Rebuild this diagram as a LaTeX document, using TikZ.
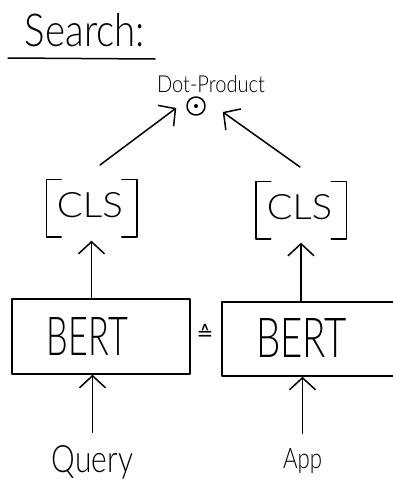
\documentclass[tikz,border=0pt]{standalone}
\usepackage{fontspec}
\usepackage{graphicx}
\setmainfont{Lato}[UprightFont={* Light}]
\newfontfamily\symfont{DejaVu Sans}
\usetikzlibrary{arrows.meta}
\begin{document}
\begin{tikzpicture}[x=1pt,y=-1pt, line width=1.5pt, line cap=round, line join=round,
  arr/.style={-{Straight Barb[length=12pt,width=26pt,line width=1.5pt]}},
  txt/.style={inner sep=0pt, anchor=base, font=\fontsize{20}{24}\selectfont},
  clsbox/.style={minimum width=89pt, minimum height=56pt, inner sep=0pt},
  bertbox/.style={draw, inner sep=0pt}]
\useasboundingbox (0,0) rectangle (392,482);
% title
\node[txt] (search) at (85,46) {\resizebox{120pt}{33pt}{Search:}};
\coordinate (ul1) at (8,58);
\coordinate (ul2) at (155,59);
\draw (ul1) -- (ul2);
% dot product
\node[circle, draw, minimum size=18pt, inner sep=0pt] (dot) at (196,106) {};
\fill (dot.center) circle (2pt);
\node[txt] (dp) at (211,92) {\resizebox{108pt}{17pt}{Dot-Product}};
% CLS
\node[clsbox] (cls1) at (91.5,208) {};
\node[txt] (clst1) at (90,217) {\resizebox{66pt}{25pt}{CLS}};
\node[clsbox] (cls2) at (301,210) {};
\node[txt] (clst2) at (299.5,219) {\resizebox{65pt}{25pt}{CLS}};
\foreach \c in {cls1,cls2}{
  \draw ([xshift=15pt]\c.north west) -- (\c.north west) -- (\c.south west) -- ++(15,0);
  \draw ([xshift=-15pt]\c.north east) -- (\c.north east) -- (\c.south east) -- ++(-15,0);
}
% BERT
\node[bertbox, minimum width=178pt, minimum height=75pt] (bert1) at (101,336.5) {};
\node[txt] (bt1) at (87.5,355) {\resizebox{81pt}{38pt}{BERT}};
\node[bertbox, minimum width=174pt, minimum height=74pt] (bert2) at (309,339) {};
\node[txt] (bt2) at (301.5,357) {\resizebox{91pt}{39pt}{BERT}};
\node[inner sep=0pt] (eq) at (205,332) {\symfont\fontsize{20}{24}\selectfont ≙};
% inputs
\node[txt] (q) at (92.5,472) {\resizebox{81pt}{27pt}{Query}};
\node[txt] (app) at (302.5,468) {\resizebox{39pt}{20pt}{App}};
% arrows
\draw[arr] ([yshift=12pt]q.north) -- (q.north |- bert1.south);
\draw[arr] ([yshift=14pt]app.north) -- (app.north |- bert2.south);
\draw[arr] (cls1.south |- bert1.north) -- ([yshift=-4pt]cls1.south);
\draw[arr] (cls2.south |- bert2.north) -- ([yshift=-4pt]cls2.south);
\coordinate (s1) at (100,165);
\coordinate (s2) at (300,167);
\draw[arr] (s1) -- ([shift={(-10,2)}]dot.west);
\draw[arr] (s2) -- ([shift={(17,6)}]dot.east);
\end{tikzpicture}
\end{document}
